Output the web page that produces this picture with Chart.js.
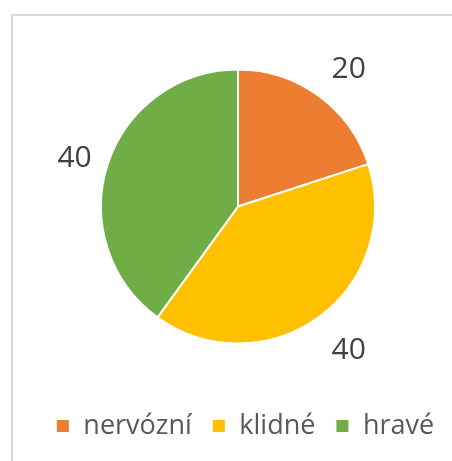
<!DOCTYPE html>
<html>
<head>
<meta charset="utf-8">
<script src="https://cdn.jsdelivr.net/npm/chart.js@4/dist/chart.umd.min.js"></script>
<style>
  body { margin: 0; background: #fff; }
  #frame { position: absolute; left: 11px; top: 14px; width: 600px; height: 600px;
           border: 2px solid #d9d9d9; box-sizing: border-box; }
  #chart { position: absolute; left: 0; top: 0; }
</style>
</head>
<body>
<div id="frame"></div>
<canvas id="chart" width="452" height="461"></canvas>
<script>
/* Data */
var labels = ["nervózní", "klidné", "hravé"];
var values = [20, 40, 40];
var colors = ["#ED7D31", "#FFC000", "#70AD47"];

var FONT = "'Open Sans', 'Liberation Sans', sans-serif";

// value labels outside the slices
var outsideLabels = {
  id: "outsideLabels",
  afterDatasetsDraw: function(chart){
    var ctx = chart.ctx;
    var meta = chart.getDatasetMeta(0);
    ctx.save();
    ctx.font = "30px " + FONT;
    ctx.fillStyle = "#404040";
    ctx.textAlign = "center";
    ctx.textBaseline = "middle";
    meta.data.forEach(function(arc, i){
      var mid = (arc.startAngle + arc.endAngle) / 2;
      var r = arc.outerRadius * 1.3;
      var dy = Math.sin(mid) < 0 ? 7 : 0;   // upper labels sit a bit lower
      ctx.fillText(String(chart.data.datasets[0].data[i]),
        arc.x + Math.cos(mid) * r + 6, arc.y + Math.sin(mid) * r + dy);
    });
    ctx.restore();
  }
};

// legend sits a little right of the pie centre
var legendShift = {
  id: "legendShift",
  afterLayout: function(chart){
    chart.legend.left += 7;
    chart.legend.right += 7;
  }
};

var ctx = document.getElementById("chart").getContext("2d");
var chart = new Chart(ctx, {
  type: "pie",
  data: {
    labels: labels,
    datasets: [{
      data: values,
      backgroundColor: colors,
      borderColor: "#ffffff",
      borderWidth: 2,
      radius: 137
    }]
  },
  options: {
    responsive: false,
    animation: false,
    layout: { padding: { top: 69, left: 24, right: 0, bottom: 11.5 } },
    plugins: {
      tooltip: { enabled: false },
      legend: {
        position: "bottom",
        title: { display: true, text: "", font: { size: 10, lineHeight: 1 }, padding: { top: 38.5, bottom: 0 } },
        labels: {
          boxWidth: 14,
          boxHeight: 14,
          padding: 20,
          color: "#595959",
          font: { family: FONT, size: 27 }
        }
      }
    }
  },
  plugins: [outsideLabels, legendShift]
});
</script>
</body>
</html>
